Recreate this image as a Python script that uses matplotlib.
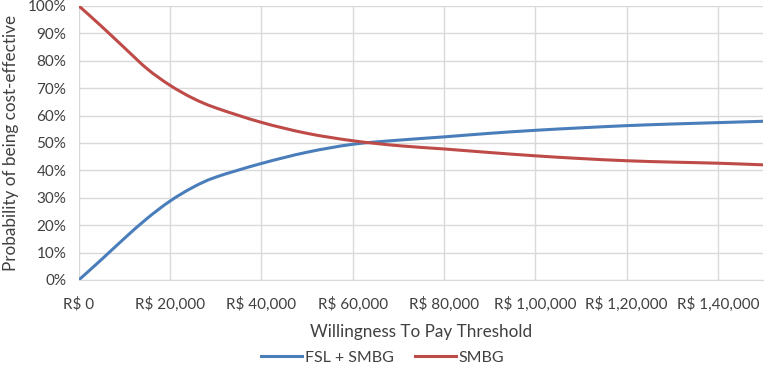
import matplotlib.pyplot as plt
from matplotlib.ticker import FuncFormatter
from matplotlib.path import Path
from matplotlib.patches import PathPatch
from matplotlib.lines import Line2D

plt.rcParams['font.family'] = ['Lato', 'DejaVu Sans']

# willingness to pay (R$) and probability of being cost-effective (%)
wtp = [0, 5000, 10000, 15000, 20000, 25000, 30000, 40000, 50000, 60000, 70000,
       80000, 90000, 100000, 110000, 120000, 130000, 140000, 150000]
fsl_smbg = [0, 7.5, 15.2, 22.5, 28.8, 33.8, 37.5, 42.5, 46.6, 49.5, 51.0,
            52.2, 53.5, 54.6, 55.5, 56.3, 56.9, 57.4, 57.9]
smbg = [100, 92.5, 84.7, 77.0, 71.0, 66.3, 62.8, 57.5, 53.5, 50.8, 49.0,
        47.8, 46.5, 45.3, 44.3, 43.5, 43.0, 42.6, 42.0]
x_ticks = [0, 20000, 40000, 60000, 80000, 100000, 120000, 140000]
x_labels = ['R$ 0', 'R$ 20,000', 'R$ 40,000', 'R$ 60,000', 'R$ 80,000',
            'R$ 1,00,000', 'R$ 1,20,000', 'R$ 1,40,000']

colors = {'FSL + SMBG': '#4a7ebb', 'SMBG': '#be4b48'}


def smooth_path(xs, ys):
    # Excel-style smoothed line: cubic bezier through every point
    n = len(xs)
    verts = [(xs[0], ys[0])]
    codes = [Path.MOVETO]
    for i in range(n - 1):
        p0 = i - 1 if i > 0 else i
        p3 = i + 2 if i + 2 < n else i + 1
        c1 = (xs[i] + (xs[i + 1] - xs[p0]) / 6, ys[i] + (ys[i + 1] - ys[p0]) / 6)
        c2 = (xs[i + 1] - (xs[p3] - xs[i]) / 6, ys[i + 1] - (ys[p3] - ys[i]) / 6)
        verts += [c1, c2, (xs[i + 1], ys[i + 1])]
        codes += [Path.CURVE4] * 3
    return Path(verts, codes)


fig = plt.figure(figsize=(7.65, 3.66), dpi=100)
ax = fig.add_axes([0.103, 0.235, 0.895, 0.749])

for name, vals in [('FSL + SMBG', fsl_smbg), ('SMBG', smbg)]:
    ax.add_patch(PathPatch(smooth_path(wtp, vals), fill=False,
                           edgecolor=colors[name], lw=2.2, capstyle='round'))

ax.set_xlim(0, 150000)
ax.set_ylim(0, 100)
ax.set_xticks(x_ticks)
ax.set_xticklabels(x_labels)
ax.set_yticks(range(0, 101, 10))
ax.yaxis.set_major_formatter(FuncFormatter(lambda v, p: f'{v:.0f}%'))

ax.grid(True, color='#d9d9d9', lw=1)
ax.set_axisbelow(True)
for s in ['top', 'right', 'left']:
    ax.spines[s].set_visible(False)
ax.spines['bottom'].set_color('#d9d9d9')
ax.tick_params(length=0, labelsize=11, colors='#404040')
ax.tick_params(axis='x', pad=12)
ax.tick_params(axis='y', pad=9)

ax.set_xlabel('Willingness To Pay Threshold', fontsize=12.3, color='#404040', labelpad=9)
ax.set_ylabel('Probability of being cost-effective', fontsize=12.3, color='#404040', labelpad=6)

handles = [Line2D([], [], color=c, lw=2.2) for c in colors.values()]
fig.legend(handles, list(colors.keys()), loc='center', bbox_to_anchor=(0.5, 0.022),
           ncol=2, frameon=False, fontsize=11.5, handlelength=2.6,
           handletextpad=0.15, columnspacing=1.3, labelcolor='#404040')

fig.savefig('out.png', dpi=100)
